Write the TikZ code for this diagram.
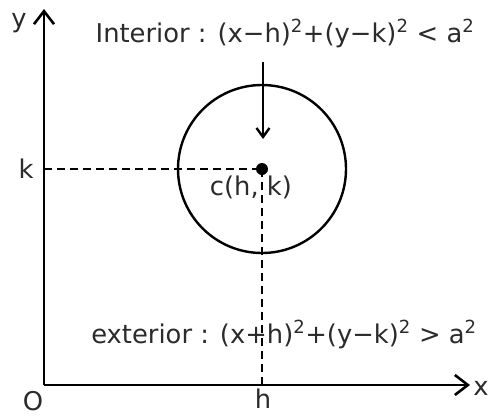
\documentclass[tikz,border=0pt]{standalone}
\usepackage{fontspec}
\setmainfont{DejaVu Sans}
\usetikzlibrary{arrows.meta, positioning, calc}
\definecolor{txtGrey}{HTML}{2B2B2B}

\begin{document}
\begin{tikzpicture}[x=1pt, y=-1pt, line width=2.6pt,
    every node/.style={font=\fontsize{25.8}{30}\selectfont, text=txtGrey, inner sep=0pt},
    axis/.style={-{Straight Barb[length=13pt, width=20pt, line width=2.6pt]}},
    pointer/.style={-{Straight Barb[length=9pt, width=13pt, line width=2.4pt]}},
    guide/.style={line width=2.1pt, dash pattern=on 8pt off 5pt}]
  \useasboundingbox (0,0) rectangle (488,416);
  % axes
  \coordinate (o) at (44,385);
  \coordinate (xend) at (470,385);
  \coordinate (yend) at (44,9);
  \draw[axis] (o) -- (xend);
  \draw[axis] (o) -- (yend);
  \node (xlab) at (481,388) {x};
  \node (ylab) at (19,23) {y};
  \node (olab) at (33,401) {O};
  % circle and centre
  \coordinate (c) at (262,169);
  \draw[line width=2.4pt] (c) circle (84);
  \fill[black] (c) circle (6);
  \node (clab) at (251,187) {c(h, k)};
  % guide lines
  \coordinate (kx) at (44,169);
  \coordinate (hx) at (262,385);
  \draw[guide] (kx) -- (c);
  \draw[guide] (c) -- (hx);
  \node (klab) at (26,169) {k};
  \node (hlab) at (263,399) {h};
  % labels
  \node[anchor=base] (int) at (285,42) {Interior : (x−h)\textsuperscript{2}+(y−k)\textsuperscript{2} < a\textsuperscript{2}};
  \node[anchor=base] (ext) at (284,343) {exterior : (x+h)\textsuperscript{2}+(y−k)\textsuperscript{2} > a\textsuperscript{2}};
  \coordinate (arr) at (263,62);
  \draw[pointer] (arr) -- ($(c)+(1,-30)$);
\end{tikzpicture}
\end{document}
